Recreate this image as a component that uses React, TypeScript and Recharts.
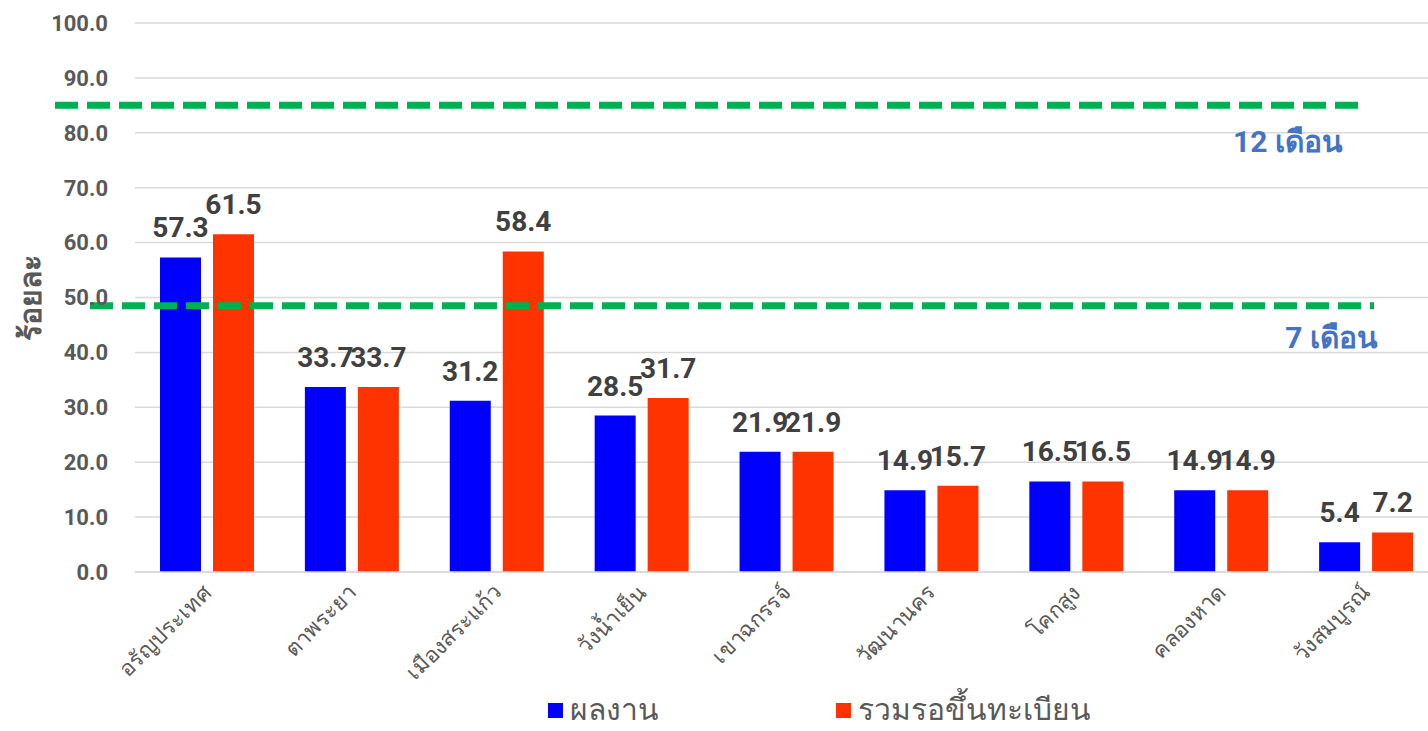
import React from 'react';
import { BarChart, Bar, XAxis, YAxis, CartesianGrid, ReferenceLine, LabelList, Legend } from 'recharts';

const categories = ['อรัญประเทศ', 'ตาพระยา', 'เมืองสระแก้ว', 'วังน้ำเย็น', 'เขาฉกรรจ์', 'วัฒนานคร', 'โคกสูง', 'คลองหาด', 'วังสมบูรณ์'];
const performance = [57.3, 33.7, 31.2, 28.5, 21.9, 14.9, 16.5, 14.9, 5.4];
const pending = [61.5, 33.7, 58.4, 31.7, 21.9, 15.7, 16.5, 14.9, 7.2];
const yTicks = [0, 10, 20, 30, 40, 50, 60, 70, 80, 90, 100];
const targetValues = [85, 48.5];
const targetLabels = ['12 เดือน', '7 เดือน'];
const seriesNames = ['ผลงาน', 'รวมรอขึ้นทะเบียน'];
const yAxisTitle = 'ร้อยละ';

const data = categories.map((name, i) => ({ name, performance: performance[i], pending: pending[i] }));

const BLUE = '#0000FF';
const RED = '#FF3300';
const GRAY = '#595959';
const FONT = 'Roboto, "Liberation Sans", Arial, sans-serif';

const XTick = (props: any) => {
  const { x, y, payload } = props;
  return (
    <text
      x={0}
      y={0}
      transform={`translate(${x + 5},${y + 22}) rotate(-45)`}
      textAnchor="end"
      fill={GRAY}
      fontSize={22}
      fontFamily={FONT}
    >
      {payload.value}
    </text>
  );
};

const makeTargetShape = (label: string, startShift: number, endShift: number, textShift: number, textDy: number) => (p: any) => (
  <g>
    <line
      x1={p.x1 + startShift}
      y1={p.y1}
      x2={p.x2 + endShift}
      y2={p.y2}
      stroke="#00B050"
      strokeWidth={7}
      strokeDasharray="23 9"
    />
    <text
      x={p.x2 + textShift}
      y={p.y1 + textDy}
      textAnchor="end"
      fill="#4472C4"
      fontSize={30}
      fontWeight="bold"
      fontFamily={FONT}
    >
      {label}
    </text>
  </g>
);

const targetShapes = [
  makeTargetShape(targetLabels[0], -80, -72, -96, 47),
  makeTargetShape(targetLabels[1], -45, -65, -61, 42),
];

const renderLegend = () => {
  const items = [
    { name: seriesNames[0], color: BLUE, left: 548 },
    { name: seriesNames[1], color: RED, left: 836 },
  ];
  return (
    <div style={{ position: 'relative', height: 40, width: 1428 }}>
      {items.map((it) => (
        <div
          key={it.name}
          style={{ position: 'absolute', left: it.left, top: 4, height: 30, display: 'flex', alignItems: 'center' }}
        >
          <div style={{ width: 15, height: 15, background: it.color, marginRight: 7 }} />
          <span style={{ fontSize: 30, color: GRAY, fontFamily: FONT, lineHeight: '30px', whiteSpace: 'nowrap' }}>{it.name}</span>
        </div>
      ))}
    </div>
  );
};

const YTitle = (props: any) => {
  const vb = props.viewBox || { x: 0, y: 23, width: 135, height: 549 };
  const cx = vb.x + 30;
  const cy = vb.y + vb.height / 2;
  return (
    <text
      x={cx}
      y={cy}
      transform={`rotate(-90 ${cx} ${cy})`}
      textAnchor="middle"
      dominantBaseline="central"
      fill={GRAY}
      fontSize={30}
      fontWeight="bold"
      fontFamily={FONT}
    >
      {yAxisTitle}
    </text>
  );
};

export default function App() {
  return (
    <div style={{ position: 'absolute', left: 0, top: 0, width: 1428, height: 731, overflow: 'hidden', background: '#fff' }}>
      <BarChart
        width={1440}
        height={731}
        data={data}
        margin={{ top: 23, right: 1, left: 0, bottom: 0 }}
        barGap={12}
      >
        <CartesianGrid vertical={false} stroke="#D9D9D9" strokeWidth={1.5} />
        <XAxis
          dataKey="name"
          height={119}
          tick={<XTick />}
          tickLine={false}
          tickSize={0}
          tickMargin={0}
          axisLine={{ stroke: '#D9D9D9', strokeWidth: 1.5 }}
          interval={0}
        />
        <YAxis
          width={135}
          domain={[0, 100]}
          ticks={yTicks}
          tickFormatter={(v: number) => v.toFixed(1)}
          axisLine={false}
          tickLine={false}
          tickMargin={21}
          tick={{ fill: GRAY, fontSize: 22, fontWeight: 'bold', fontFamily: FONT }}
          label={{ content: <YTitle /> }}
        />
        <Legend verticalAlign="bottom" height={40} content={renderLegend} wrapperStyle={{ left: 0, width: 1428 }} />
        <Bar dataKey="performance" name={seriesNames[0]} fill={BLUE} barSize={41} isAnimationActive={false}>
          <LabelList dataKey="performance" position="top" offset={20} fill="#404040" fontSize={28} fontWeight="bold" fontFamily={FONT} />
        </Bar>
        <Bar dataKey="pending" name={seriesNames[1]} fill={RED} barSize={41} isAnimationActive={false}>
          <LabelList dataKey="pending" position="top" offset={20} fill="#404040" fontSize={28} fontWeight="bold" fontFamily={FONT} />
        </Bar>
        {targetValues.map((v, i) => (
          <ReferenceLine key={v} y={v} ifOverflow="visible" shape={targetShapes[i]} />
        ))}
      </BarChart>
    </div>
  );
}
